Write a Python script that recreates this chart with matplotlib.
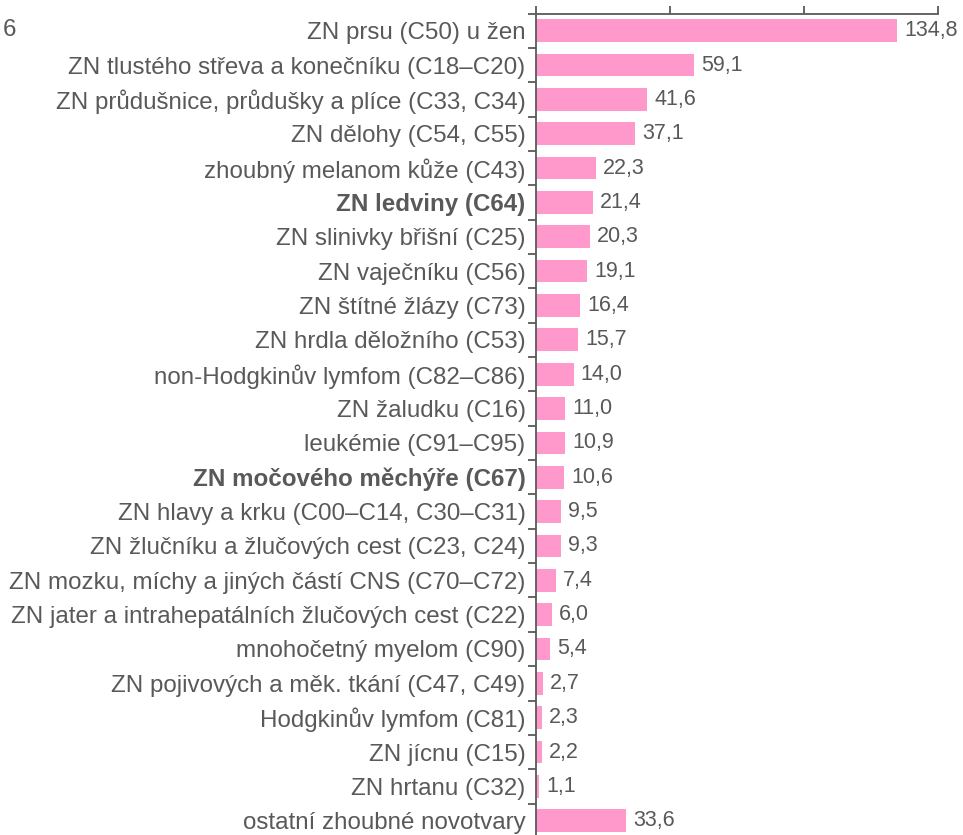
import matplotlib
matplotlib.use("Agg")
import matplotlib.pyplot as plt
import numpy as np

categories = [
    "ZN prsu (C50) u žen",
    "ZN tlustého střeva a konečníku (C18–C20)",
    "ZN průdušnice, průdušky a plíce (C33, C34)",
    "ZN dělohy (C54, C55)",
    "zhoubný melanom kůže (C43)",
    "ZN ledviny (C64)",
    "ZN slinivky břišní (C25)",
    "ZN vaječníku (C56)",
    "ZN štítné žlázy (C73)",
    "ZN hrdla děložního (C53)",
    "non-Hodgkinův lymfom (C82–C86)",
    "ZN žaludku (C16)",
    "leukémie (C91–C95)",
    "ZN močového měchýře (C67)",
    "ZN hlavy a krku (C00–C14, C30–C31)",
    "ZN žlučníku a žlučových cest (C23, C24)",
    "ZN mozku, míchy a jiných částí CNS (C70–C72)",
    "ZN jater a intrahepatálních žlučových cest (C22)",
    "mnohočetný myelom (C90)",
    "ZN pojivových a měk. tkání (C47, C49)",
    "Hodgkinův lymfom (C81)",
    "ZN jícnu (C15)",
    "ZN hrtanu (C32)",
    "ostatní zhoubné novotvary",
]
values = [134.8, 59.1, 41.6, 37.1, 22.3, 21.4, 20.3, 19.1, 16.4, 15.7, 14.0,
          11.0, 10.9, 10.6, 9.5, 9.3, 7.4, 6.0, 5.4, 2.7, 2.3, 2.2, 1.1, 33.6]
bold_labels = ["ZN ledviny (C64)", "ZN močového měchýře (C67)"]
x_ticks = [0, 50, 100, 150]

plt.rcParams['font.family'] = ['Liberation Sans', 'DejaVu Sans']
gray = "#595959"
pink = "#FF99CC"

W, H = 963, 835
fig = plt.figure(figsize=(W / 100, H / 100), dpi=100)
n = len(categories)
left = 536 / W
right = 938 / W
top = 1 - 13.5 / H
row_h = 34.35
bottom = 1 - (13.5 + row_h * n) / H
ax = fig.add_axes([left, bottom, right - left, top - bottom])

y = np.arange(n)
ax.barh(y, values, height=0.66, color=pink, zorder=2)
ax.set_ylim(n - 0.5, -0.5)
ax.set_xlim(0, 150)

ax.xaxis.tick_top()
ax.set_xticks(x_ticks)
ax.set_xticklabels([])
ax.tick_params(axis='x', direction='out', length=6, width=1.3, color=gray)

ax.set_yticks(y)
ax.set_yticklabels(categories, fontsize=17.4, color=gray)
for lab in ax.get_yticklabels():
    if lab.get_text() in bold_labels:
        lab.set_fontweight('bold')
ax.tick_params(axis='y', which='major', length=0, pad=7.5)
ax.set_yticks(np.arange(-0.5, n, 1.0), minor=True)
ax.tick_params(axis='y', which='minor', direction='out', length=6, width=1.3, color=gray)

for s in ['right', 'bottom']:
    ax.spines[s].set_visible(False)
for s in ['left', 'top']:
    ax.spines[s].set_color(gray)
    ax.spines[s].set_linewidth(1.3)

for yi, v in zip(y, values):
    ax.text(v + 2.6, yi, f"{v:.1f}".replace('.', ','), va='center', ha='left',
            fontsize=15.5, color=gray)

fig.text(3 / W, 1 - 30 / H, "6", fontsize=17.4, color=gray, va='center', ha='left')

fig.savefig("out.png", dpi=100)
